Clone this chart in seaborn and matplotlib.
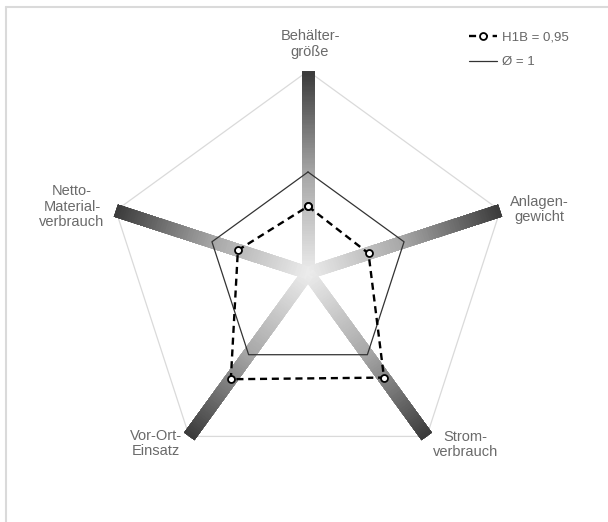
import numpy as np
import matplotlib
matplotlib.use('Agg')
import matplotlib.pyplot as plt
from matplotlib.collections import LineCollection
from matplotlib.lines import Line2D
import seaborn as sns

# chart data
categories = ['Behälter-\ngröße', 'Anlagen-\ngewicht', 'Strom-\nverbrauch',
              'Vor-Ort-\nEinsatz', 'Netto-\nMaterial-\nverbrauch']
h1b_values = [0.66, 0.63, 1.28, 1.30, 0.73]
avg_values = [1.0, 1.0, 1.0, 1.0, 1.0]
r_max = 2.0
series_labels = ['H1B = 0,95', 'Ø = 1']

# label offsets from the spoke ends, in pixels
label_offsets = [(2, 27), (39, 1), (39, -8), (-33, -7), (-44, 4)]

sns.set_theme(style='white')
plt.rcParams['font.family'] = ['Liberation Sans', 'DejaVu Sans']

fig = plt.figure(figsize=(6.08, 5.22), dpi=100)
ax = fig.add_axes([106 / 608, 47 / 522, 404 / 608, 404 / 522], projection='polar')
ax.set_theta_offset(np.pi / 2)
ax.set_theta_direction(-1)

n = len(categories)
theta = np.linspace(0, 2 * np.pi, n, endpoint=False)
theta_closed = np.append(theta, theta[0])

# outer pentagon
outer = [r_max] * n
ax.plot(theta_closed, outer + outer[:1], color='#dadada', lw=0.9, zorder=1)

# gradient spokes: each step overpaints the rest of the spoke, so no seams
steps = 80
shades = sns.blend_palette(['#ebebeb', '#a6a6a6', '#3c3c3c'], n_colors=steps)
r_edges = np.linspace(0, r_max, steps + 1)
for t in theta:
    segs = [[(t, r_edges[k]), (t, r_max)] for k in range(steps)]
    lc = LineCollection(segs, colors=shades, linewidths=9, capstyle='butt', zorder=2)
    ax.add_collection(lc)

# average polygon
ax.plot(theta_closed, avg_values + avg_values[:1], color='#333333', lw=0.9, zorder=3)

# H1B polygon
ax.plot(theta_closed, h1b_values + h1b_values[:1], color='black', lw=1.7,
        ls=(0, (3, 2)), marker='o', ms=5, mfc='white', mec='black', mew=1.3, zorder=4)

for t, lab, off in zip(theta, categories, label_offsets):
    ax.annotate(lab, xy=(t, r_max), xytext=off, textcoords='offset pixels',
                ha='center', va='center', fontsize=10.5, color='#6a6a6a',
                linespacing=1.15, annotation_clip=False)

ax.set_ylim(0, r_max)
ax.set_xticks([])
ax.set_yticks([])
ax.grid(False)
ax.spines['polar'].set_visible(False)
ax.patch.set_visible(False)

handles = [
    Line2D([], [], color='black', lw=1.7, ls=(0, (3, 2)), marker='o', ms=5,
           mfc='white', mec='black', mew=1.3),
    Line2D([], [], color='#333333', lw=0.9),
]
fig.legend(handles, series_labels, loc='upper left', bbox_to_anchor=(0.772, 0.94),
           frameon=False, fontsize=9.5, labelcolor='#666666', handlelength=2.1,
           handletextpad=0.35, labelspacing=0.95, borderpad=0, borderaxespad=0)

# light frame at top and left
fig.add_artist(Line2D([6 / 608, 1], [1 - 7 / 522, 1 - 7 / 522], transform=fig.transFigure,
                      color='#dadada', lw=1.5))
fig.add_artist(Line2D([6 / 608, 6 / 608], [0, 1 - 7 / 522], transform=fig.transFigure,
                      color='#dadada', lw=1.5))

fig.savefig('out.png', dpi=100)
